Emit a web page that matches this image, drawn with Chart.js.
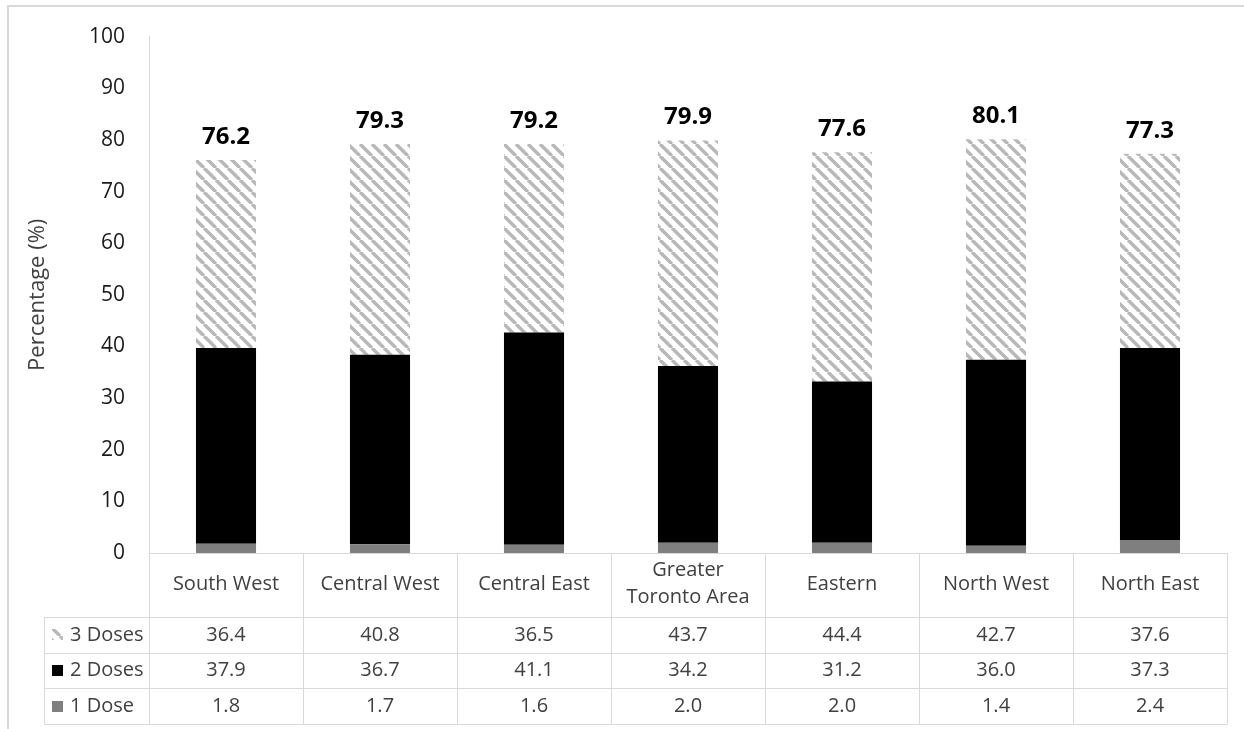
<!DOCTYPE html>
<html>
<head>
<meta charset="utf-8">
<title>Vaccination coverage by region</title>
<script src="https://cdn.jsdelivr.net/npm/chart.js@4.4.0/dist/chart.umd.min.js"></script>
<style>
  html, body { margin: 0; padding: 0; background: #ffffff; }
  #wrap { width: 1244px; height: 729px; position: relative; }
</style>
</head>
<body>
<div id="wrap"><canvas id="chart" width="1244" height="729"></canvas></div>
<script>
// Regions (a nested array is drawn on two lines)
const regions = ['South West', 'Central West', 'Central East', ['Greater', 'Toronto Area'], 'Eastern', 'North West', 'North East'];
// Percentage of population by number of doses
const oneDose    = [1.8, 1.7, 1.6, 2.0, 2.0, 1.4, 2.4];
const twoDoses   = [37.9, 36.7, 41.1, 34.2, 31.2, 36.0, 37.3];
const threeDoses = [36.4, 40.8, 36.5, 43.7, 44.4, 42.7, 37.6];
// Total coverage shown above each bar
const totals     = [76.2, 79.3, 79.2, 79.9, 77.6, 80.1, 77.3];
// Series names as listed in the data table
const seriesNames = ['3 Doses', '2 Doses', '1 Dose'];

const FONT = "'Open Sans', 'Noto Sans', sans-serif";
const LINE = '#d9d9d9';
const TEXT = '#404040';

// Diagonal hatch fill used for the 3-dose segment
function makeHatch() {
  const s = 12;
  const c = document.createElement('canvas');
  c.width = s; c.height = s;
  const g = c.getContext('2d');
  g.fillStyle = '#ffffff';
  g.fillRect(0, 0, s, s);
  g.strokeStyle = '#b8b8b8';
  g.lineWidth = 3.4;
  for (const o of [-s, 0, s]) {
    g.beginPath();
    g.moveTo(o, 0);
    g.lineTo(o + s, s);
    g.stroke();
  }
  return g.createPattern(c, 'repeat');
}
const hatch = makeHatch();
const seriesFills = [hatch, '#000000', '#7f7f7f'];
const seriesValues = [threeDoses, twoDoses, oneDose];

// Frame, total labels and the data table beneath the plot
const tablePlugin = {
  id: 'dataTable',
  afterDatasetsDraw(chart) {
    const ctx = chart.ctx;
    const top = chart.getDatasetMeta(2);
    ctx.save();
    ctx.fillStyle = '#000000';
    ctx.font = `bold 24px ${FONT}`;
    ctx.textAlign = 'center';
    ctx.textBaseline = 'alphabetic';
    top.data.forEach((bar, i) => {
      ctx.fillText(totals[i].toFixed(1), bar.x, bar.y - 16);
    });
    ctx.restore();
  },
  afterDraw(chart) {
    const ctx = chart.ctx;
    const area = chart.chartArea;
    const xs = chart.scales.x;
    const n = regions.length;
    const colW = (area.right - area.left) / n;
    const headTop = area.bottom;
    const headBottom = headTop + 64;
    const rowH = 35.7;
    const legendLeft = 44;
    const tableBottom = headBottom + rowH * 3;

    ctx.save();
    // outer frame
    ctx.strokeStyle = LINE;
    ctx.lineWidth = 2;
    ctx.beginPath();
    ctx.moveTo(8, chart.height + 2);
    ctx.lineTo(8, 6);
    ctx.lineTo(chart.width + 2, 6);
    ctx.stroke();

    // grid of the table
    ctx.lineWidth = 1;
    ctx.beginPath();
    ctx.moveTo(area.left, headTop + 0.5);
    ctx.lineTo(area.right, headTop + 0.5);
    for (let r = 0; r <= 3; r++) {
      const y = Math.round(headBottom + r * rowH) + 0.5;
      ctx.moveTo(legendLeft, y);
      ctx.lineTo(area.right, y);
    }
    for (let c = 0; c <= n; c++) {
      const x = Math.round(area.left + c * colW) + 0.5;
      ctx.moveTo(x, headTop);
      ctx.lineTo(x, tableBottom);
    }
    ctx.moveTo(legendLeft + 0.5, headBottom);
    ctx.lineTo(legendLeft + 0.5, tableBottom);
    ctx.stroke();

    // category header
    ctx.fillStyle = TEXT;
    ctx.font = `20px ${FONT}`;
    ctx.textAlign = 'center';
    ctx.textBaseline = 'middle';
    const headMid = (headTop + headBottom) / 2;
    regions.forEach((label, i) => {
      const cx = xs.getPixelForValue(i);
      const lines = Array.isArray(label) ? label : [label];
      const lh = 27;
      lines.forEach((t, k) => {
        ctx.fillText(t, cx, headMid + (k - (lines.length - 1) / 2) * lh - 1);
      });
    });

    // rows: legend key, series name and values
    seriesNames.forEach((name, r) => {
      const cy = headBottom + rowH * (r + 0.5);
      ctx.fillStyle = seriesFills[r];
      ctx.fillRect(52, Math.round(cy - 5.5), 11, 11);
      ctx.fillStyle = TEXT;
      ctx.textAlign = 'left';
      ctx.fillText(name, 70, cy);
      ctx.textAlign = 'center';
      seriesValues[r].forEach((v, i) => {
        ctx.fillText(v.toFixed(1), xs.getPixelForValue(i), cy);
      });
    });
    ctx.restore();
  }
};

new Chart(document.getElementById('chart'), {
  type: 'bar',
  data: {
    labels: regions.map(r => Array.isArray(r) ? r.join(' ') : r),
    datasets: [
      { label: '1 Dose', data: oneDose, backgroundColor: '#7f7f7f' },
      { label: '2 Doses', data: twoDoses, backgroundColor: '#000000' },
      { label: '3 Doses', data: threeDoses, backgroundColor: hatch }
    ]
  },
  options: {
    responsive: false,
    devicePixelRatio: 1,
    animation: false,
    events: [],
    categoryPercentage: 1.0,
    barPercentage: 0.39,
    layout: { padding: { top: 32, right: 17, bottom: 176, left: 0 } },
    plugins: {
      legend: { display: false },
      tooltip: { enabled: false }
    },
    scales: {
      x: {
        stacked: true,
        display: false
      },
      y: {
        stacked: true,
        min: 0,
        max: 100,
        afterFit(scale) { scale.width = 149; },
        grid: { display: false, drawTicks: false },
        border: { display: true, color: LINE, width: 1 },
        ticks: {
          stepSize: 10,
          padding: 24,
          color: '#1a1a1a',
          font: { family: FONT, size: 21 }
        },
        title: {
          display: true,
          text: 'Percentage (%)',
          color: TEXT,
          padding: { top: 25, bottom: 0 },
          font: { family: FONT, size: 22 }
        }
      }
    }
  },
  plugins: [tablePlugin]
});
</script>
</body>
</html>
